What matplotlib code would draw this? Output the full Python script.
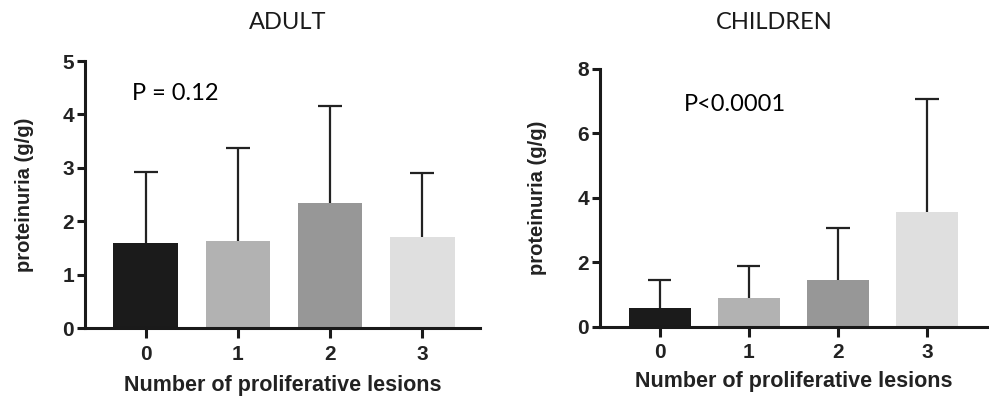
import matplotlib
matplotlib.use('Agg')
import matplotlib.pyplot as plt
import numpy as np

# Data
lesions = ['0', '1', '2', '3']
adult_mean = [1.60, 1.63, 2.35, 1.71]
adult_err = [1.32, 1.74, 1.81, 1.19]   # upper SD (top of whisker minus mean)
child_mean = [0.59, 0.90, 1.46, 3.55]
child_err = [0.86, 0.99, 1.60, 3.52]
bar_colors = ['#1b1b1b', '#b2b2b2', '#979797', '#dfdfdf']

fig = plt.figure(figsize=(9.89, 3.96), dpi=100)
ax1 = fig.add_axes([0.086, 0.1717, 0.399, 0.674])
ax2 = fig.add_axes([0.6067, 0.175, 0.391, 0.651])

bold_font = 'Liberation Sans'
text_font = 'Lato'


def panel(ax, means, errs, ymax, yticks, ptext, pxy, xlim, ylpad, xlpad):
    x = np.arange(len(lesions))
    means = np.array(means)
    tops = means + np.array(errs)
    ax.bar(x, means, width=0.7, color=bar_colors, zorder=2)
    # upper-only error bars
    ax.vlines(x, means, tops, color='#222222', lw=1.6, zorder=1)
    ax.hlines(tops, x - 0.13, x + 0.13, color='#222222', lw=1.6, zorder=1)
    ax.set_ylim(0, ymax)
    ax.set_xlim(*xlim)
    ax.set_yticks(yticks)
    ax.set_xticks(x)
    ax.set_xticklabels(lesions)
    for s in ['top', 'right']:
        ax.spines[s].set_visible(False)
    for s in ['left', 'bottom']:
        ax.spines[s].set_linewidth(2.2)
        ax.spines[s].set_color('#1a1a1a')
    ax.tick_params(width=2.2, length=6, color='#1a1a1a', labelsize=15)
    ax.tick_params(axis='x', length=7, pad=5)
    ax.tick_params(axis='y', pad=2)
    for lab in ax.get_xticklabels() + ax.get_yticklabels():
        lab.set_fontfamily(bold_font)
        lab.set_fontweight('bold')
        lab.set_color('#222222')
    ax.set_ylabel('proteinuria (g/g)', fontsize=14.5, fontweight='bold',
                  family=bold_font, color='#222222', labelpad=ylpad)
    ax.set_xlabel('Number of proliferative lesions', fontsize=15.5, fontweight='bold',
                  family=bold_font, color='#222222', labelpad=xlpad)
    ax.text(pxy[0], pxy[1], ptext, transform=ax.transAxes, fontsize=17,
            family=text_font, va='center', ha='left')


panel(ax1, adult_mean, adult_err, 5, [0, 1, 2, 3, 4, 5], 'P = 0.12',
      (0.12, 0.88), (-0.655, 3.62), 20, 8)
panel(ax2, child_mean, child_err, 8, [0, 2, 4, 6, 8], 'P<0.0001',
      (0.218, 0.86), (-0.67, 3.67), 22, 6)

fig.text(0.2907, 0.944, 'ADULT', fontsize=17, family=text_font, color='#1a1a1a',
         ha='center', va='center')
fig.text(0.783, 0.944, 'CHILDREN', fontsize=17, family=text_font, color='#1a1a1a',
         ha='center', va='center')

fig.savefig('out.png', dpi=100)
